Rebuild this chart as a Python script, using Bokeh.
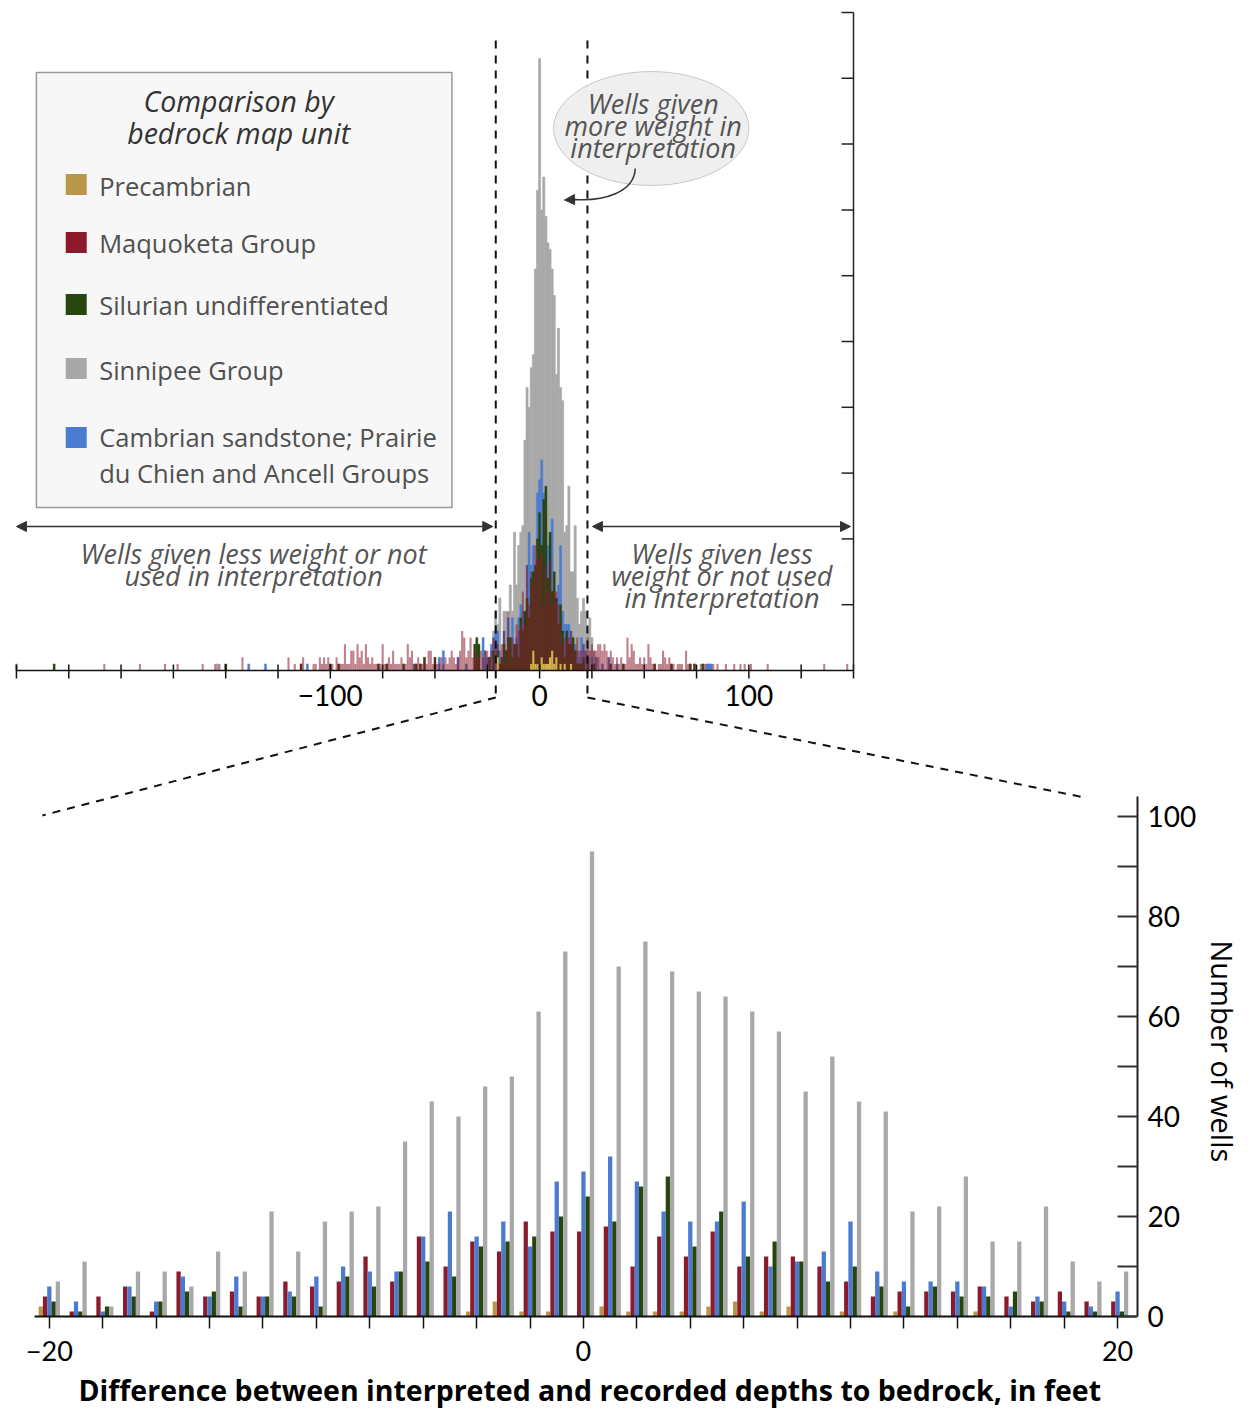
import math
from bokeh.plotting import figure
from bokeh.models import (ColumnDataSource, Range1d, LinearAxis, FixedTicker, Title,
                          Arrow, NormalHead)
from bokeh.transform import dodge
from bokeh.core.properties import value
from bokeh.embed import file_html
from bokeh.resources import INLINE

# ---------------- data ----------------
# lower chart: number of wells per 1-ft difference class, -20 .. 20
diff = list(range(-20, 21))
precambrian = [2, 0, 0, 0, 0, 0, 0, 0, 0, 0, 0, 0, 0, 0, 0, 0, 1, 3, 1, 1,
               0, 2, 1, 1, 1, 2, 3, 1, 2, 0, 1, 0, 1, 0, 0, 1, 0, 0, 0, 0, 0]
maquoketa = [4, 1, 4, 6, 1, 9, 4, 5, 4, 7, 6, 7, 12, 7, 16, 10, 15, 13, 19, 17,
             17, 18, 10, 16, 12, 17, 10, 12, 12, 10, 7, 4, 5, 5, 5, 6, 4, 3, 5, 3, 3]
cambrian = [6, 3, 1, 6, 3, 8, 4, 8, 4, 5, 8, 10, 9, 9, 16, 21, 16, 19, 14, 27,
            29, 32, 27, 21, 19, 19, 23, 10, 11, 13, 19, 9, 7, 7, 7, 6, 2, 4, 3, 2, 5]
silurian = [3, 1, 2, 4, 3, 5, 5, 2, 4, 4, 2, 8, 6, 9, 11, 8, 14, 15, 16, 20,
            24, 19, 26, 28, 14, 21, 12, 15, 11, 7, 10, 6, 2, 6, 4, 4, 5, 3, 1, 1, 1]
sinnipee = [7, 11, 2, 9, 9, 6, 13, 9, 21, 13, 19, 21, 22, 35, 43, 40, 46, 48, 61, 73,
            93, 70, 75, 69, 65, 64, 61, 57, 45, 52, 43, 41, 21, 22, 28, 15, 15, 22, 11, 7, 9]

# upper chart: wells outside the -20..20 window (1-ft bins)
red_far_x = [-208, -191, -179, -173, -161, -155, -153, -142, -120, -117, -114, -113]
red_far_n = [1, 1, 1, 1, 1, 1, 1, 2, 2, 1, 1, 2]
red_left_x = list(range(-110, -20))
red_left_n = [0, 0, 1, 1, 0, 2, 1, 2, 1, 2,
              1, 1, 0, 2, 1, 1, 1, 4, 1, 1,
              3, 3, 1, 4, 2, 3, 1, 4, 2, 1,
              2, 1, 1, 1, 1, 4, 1, 1, 2, 1,
              3, 1, 1, 1, 2, 1, 1, 4, 2, 3,
              1, 1, 2, 1, 1, 2, 1, 3, 3, 1,
              2, 1, 1, 2, 1, 2, 1, 2, 3, 2,
              1, 2, 3, 6, 5, 2, 3, 5, 2, 3,
              2, 2, 3, 2, 3, 3, 2, 3, 5, 4]
red_right_x = list(range(21, 76))
red_right_n = [4, 3, 5, 3, 4, 3, 3, 4, 4, 3,
               4, 3, 2, 3, 2, 1, 2, 1, 2, 1,
               1, 5, 2, 4, 3, 1, 1, 2, 1, 2,
               1, 4, 2, 1, 1, 0, 1, 1, 3, 2,
               1, 2, 1, 1, 0, 1, 1, 1, 0, 3,
               1, 1, 0, 1, 0]
red_rfar_x = [77, 79, 83, 85, 89, 93, 96, 98, 101, 109, 136, 147]
red_rfar_n = [1, 1, 1, 1, 1, 1, 1, 1, 1, 1, 1, 1]
blue_out_x = [-139, -131, -111, -60, -48, -46, -39, -35, -27, -26, -25, -23, -22, -21,
              21, 22, 23, 25, 27, 30, 33, 37, 80, 81, 82]
blue_out_n = [1, 1, 1, 1, 2, 3, 2, 1, 5, 3, 2, 4, 5, 6,
              4, 3, 2, 2, 2, 1, 2, 1, 1, 1, 1]
green_out_x = [-232, -150, -114, -100, -96, -77, -73, -65, -59, -57, -55, -50, -31, -30,
               -29, -24, -22, 21, 23, 26, 34, 40, 55, 63, 72, 74, 78]
green_out_n = [1, 1, 1, 1, 1, 1, 1, 1, 1, 1, 2, 2, 4, 5,
               4, 2, 3, 2, 2, 1, 1, 1, 1, 1, 1, 1, 1]
gray_out_x = [-250, -154, -24, -23, -22, -21, 21, 22, 23, 24, 25, 26, 28]
gray_out_n = [1, 1, 2, 3, 6, 9, 11, 9, 6, 8, 5, 3, 2]

units = ["Precambrian", "Maquoketa Group", "Silurian undifferentiated", "Sinnipee Group",
         "Cambrian sandstone; Prairie", "du Chien and Ancell Groups"]
top_tick_values = [-100, 0, 100]
top_tick_labels = ["\u2212100", "0", "100"]

# ---------------- styles ----------------
C_TAN = "#b8974a"
C_RED = "#8a1a2c"
C_GREEN = "#28450f"
C_GRAY = "#a8a8a8"
C_BLUE = "#4a7bd0"
TXT = "#555555"
FONT = "Lato"
SANS = "Open Sans"

# ---------------- geometry helpers (page px -> data) ----------------
W, H = 1246, 1418
FL, FR, FT, FB = 0, 1141, 0, 1316               # frame edges on the page
BX0, BSX, BY0, BSY = 585.0, 26.8, 1316.0, 5.0   # lower chart
TX0, TSX, TY0, TSY = 541.0, 2.1, 670.0, 6.58    # upper chart


def tx(px):
    return (px - TX0) / TSX


def ty(py):
    return (TY0 - py) / TSY


p = figure(width=W, height=H, output_backend="svg", toolbar_location=None,
           x_axis_type=None, y_axis_type=None,
           x_range=Range1d((FL - BX0) / BSX, (FR - BX0) / BSX),
           y_range=Range1d((BY0 - FB) / BSY, (BY0 - FT) / BSY),
           min_border_left=FL, min_border_top=FT, min_border_right=W - FR,
           min_border_bottom=H - FB)
p.outline_line_color = None
p.background_fill_color = "white"
p.border_fill_color = "white"
p.extra_x_ranges = {"top": Range1d(tx(FL), tx(FR))}
p.extra_y_ranges = {"top": Range1d(ty(FB), ty(FT))}
T = dict(x_range_name="top", y_range_name="top")

# ---------------- lower chart ----------------
src = ColumnDataSource(dict(diff=diff, precambrian=precambrian, maquoketa=maquoketa,
                            cambrian=cambrian, silurian=silurian, sinnipee=sinnipee))
bw = 0.16
for col, off, color in [("precambrian", -2 * bw, C_TAN), ("maquoketa", -bw, C_RED),
                        ("cambrian", 0.0, C_BLUE), ("silurian", bw, C_GREEN),
                        ("sinnipee", 2 * bw, C_GRAY)]:
    p.vbar(x=dodge("diff", off, range=p.x_range), top=col, width=bw, source=src,
           fill_color=color, line_color=None)

xaxis = LinearAxis(ticker=FixedTicker(ticks=[-20, 0, 20],
                                      minor_ticks=[t for t in range(-18, 20, 2) if t != 0]),
                   bounds=(-20.55, 20.7))
xaxis.major_label_overrides = {-20: "\u221220", 0: "0", 20: "20"}
xaxis.axis_line_width = 2
xaxis.axis_line_color = "#111111"
xaxis.major_tick_in = 0
xaxis.major_tick_out = 12
xaxis.minor_tick_in = 0
xaxis.minor_tick_out = 12
xaxis.major_tick_line_width = 1.5
xaxis.minor_tick_line_width = 1.5
xaxis.major_tick_line_color = "#111111"
xaxis.minor_tick_line_color = "#111111"
xaxis.major_label_standoff = 12
xaxis.major_label_text_font = FONT
xaxis.major_label_text_font_size = "27px"
xaxis.major_label_text_color = "black"
p.add_layout(xaxis, "below")

yaxis = LinearAxis(ticker=FixedTicker(ticks=[0, 20, 40, 60, 80, 100],
                                      minor_ticks=[10, 30, 50, 70, 90]),
                   bounds=(0, 104))
yaxis.axis_line_width = 2
yaxis.axis_line_color = "#222222"
yaxis.major_tick_in = 20
yaxis.major_tick_out = 0
yaxis.minor_tick_in = 20
yaxis.minor_tick_out = 0
yaxis.major_tick_line_width = 2
yaxis.minor_tick_line_width = 2
yaxis.major_tick_line_color = "#333333"
yaxis.minor_tick_line_color = "#333333"
yaxis.major_label_standoff = 10
yaxis.major_label_text_font = FONT
yaxis.major_label_text_font_size = "28px"
yaxis.major_label_text_color = "black"
yaxis.major_label_orientation = "horizontal"
p.add_layout(yaxis, "right")

p.add_layout(Title(text="Difference between interpreted and recorded depths to bedrock, in feet",
                   align="left", offset=78 - FL, standoff=10, text_font=SANS,
                   text_font_size="28.5px", text_font_style="bold", text_color="black"),
             "below")
p.add_layout(Title(text="Number of wells", align="left", offset=940 - FT, standoff=6,
                   text_font=SANS, text_font_size="29px", text_font_style="normal",
                   text_color="black"), "right")

# ---------------- upper chart: histograms ----------------
gray_x = gray_out_x + diff
gray_n = gray_out_n + sinnipee
blue_x = blue_out_x + diff
blue_n = blue_out_n + cambrian
green_x = green_out_x + diff
green_n = green_out_n + silurian
red_x = red_far_x + red_left_x + diff + red_right_x + red_rfar_x
red_n = red_far_n + red_left_n + maquoketa + red_right_n + red_rfar_n
tan_x = diff
tan_n = precambrian

p.vbar(x=gray_x, top=gray_n, width=1, fill_color=C_GRAY, line_color=C_GRAY,
       line_width=0.6, **T)
p.vbar(x=blue_x, top=blue_n, width=1, fill_color=C_BLUE, line_color=C_BLUE,
       line_width=0.4, **T)
p.vbar(x=green_x, top=green_n, width=1, fill_color=C_GREEN, line_color=C_GREEN,
       line_width=0.4, **T)
p.vbar(x=red_x, top=red_n, width=1, fill_color=C_RED, fill_alpha=0.55, line_color=None, **T)
p.vbar(x=tan_x, top=tan_n, width=1, fill_color="#d2b24e", line_color=None, **T)

# upper chart axes (drawn through the "top" scales)
top_xticks = list(range(-250, 151, 25))
p.segment(x0=[-250], y0=[0], x1=[150], y1=[0], line_color="#111111", line_width=1.5, **T)
p.segment(x0=top_xticks, y0=[ty(664)] * len(top_xticks), x1=top_xticks,
          y1=[ty(678)] * len(top_xticks), line_color="#111111", line_width=1.5, **T)
p.segment(x0=[150], y0=[0], x1=[150], y1=[100], line_color="#222222", line_width=1.5, **T)
top_yticks = list(range(10, 101, 10))
p.segment(x0=[150] * len(top_yticks), y0=top_yticks, x1=[150 - 12 / TSX] * len(top_yticks),
          y1=top_yticks, line_color="#222222", line_width=1.5, **T)
p.text(x=top_tick_values, y=[ty(695)] * 3, text=top_tick_labels, text_font=value(FONT),
       text_font_size="28px", text_color="black", text_align="center",
       text_baseline="middle", **T)

# dashed guides
p.segment(x0=[tx(497), tx(589)], y0=[ty(40), ty(40)], x1=[tx(497), tx(589)],
          y1=[ty(697), ty(697)], line_color="#111111", line_width=2, line_dash="8 7", **T)
p.segment(x0=[tx(497), tx(589)], y0=[ty(697), ty(697)], x1=[tx(42), tx(1088)],
          y1=[ty(815), ty(797)], line_color="#111111", line_width=2, line_dash="8 7", **T)

# double arrows
for xs, xe in [(tx(16), tx(494)), (tx(594), tx(853))]:
    p.add_layout(Arrow(start=NormalHead(size=10, fill_color="#333333", line_color="#333333"),
                       end=NormalHead(size=10, fill_color="#333333", line_color="#333333"),
                       x_start=xs, y_start=ty(526), x_end=xe, y_end=ty(526),
                       line_color="#333333", line_width=1.5, **T))

# legend box
p.quad(left=[tx(36)], right=[tx(453)], top=[ty(72)], bottom=[ty(507)],
       fill_color="#f7f7f7", line_color="#9a9a9a", line_width=1.5, **T)
p.text(x=[tx(239), tx(239)], y=[ty(100), ty(132)],
       text=["Comparison by", "bedrock map unit"], text_font=value(SANS),
       text_font_size="28.5px", text_font_style="italic", text_color="#333333",
       text_align="center", text_baseline="middle", **T)
sq_y = [ty(184), ty(242), ty(304), ty(368), ty(437)]
p.scatter(x=[tx(76)] * 5, y=sq_y, marker="square", size=21,
          fill_color=[C_TAN, C_RED, C_GREEN, C_GRAY, C_BLUE], line_color=None, **T)
p.text(x=[tx(99)] * 6,
       y=[ty(185), ty(242), ty(304), ty(369), ty(436), ty(472)],
       text=units, text_font=value(SANS), text_font_size="25.5px", text_color="#505050",
       text_align="left", text_baseline="middle", **T)

# annotation texts
p.text(x=[tx(254), tx(254)], y=[ty(553), ty(575)],
       text=["Wells given less weight or not", "used in interpretation"],
       text_font=value(SANS), text_font_size="27px", text_font_style="italic",
       text_color=TXT, text_align="center", text_baseline="middle", **T)
p.text(x=[tx(724)] * 3, y=[ty(553), ty(575), ty(597)],
       text=["Wells given less", "weight or not used", "in interpretation"],
       text_font=value(SANS), text_font_size="27px", text_font_style="italic",
       text_color=TXT, text_align="center", text_baseline="middle", **T)

# bubble
p.ellipse(x=[tx(653)], y=[ty(128)], width=[196 / TSX], height=[114 / TSY],
          fill_color="#efefef", line_color="#c8c8c8", line_width=1, **T)
p.text(x=[tx(655)] * 3, y=[ty(103), ty(125), ty(147)],
       text=["Wells given", "more weight in", "interpretation"],
       text_font=value(SANS), text_font_size="27px", text_font_style="italic",
       text_color=TXT, text_align="center", text_baseline="middle", **T)
p.bezier(x0=[tx(637)], y0=[ty(168)], x1=[tx(576)], y1=[ty(199)],
         cx0=[tx(636)], cy0=[ty(192)], cx1=[tx(605)], cy1=[ty(201)],
         line_color="#333333", line_width=1.5, **T)
p.add_layout(Arrow(end=NormalHead(size=10, fill_color="#333333", line_color="#333333"),
                   x_start=tx(578), y_start=ty(199), x_end=tx(566), y_end=ty(199.5),
                   line_color="#333333", line_width=1.5, **T))

open("out.html", "w").write(file_html(p, INLINE))
